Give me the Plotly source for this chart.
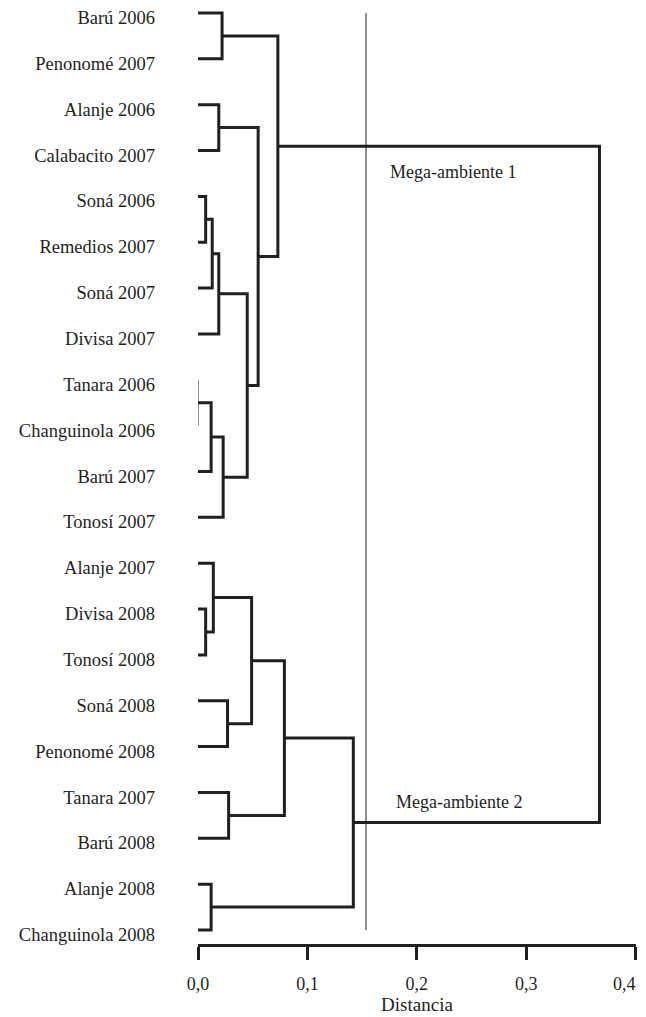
import plotly.graph_objects as go

leaves = ["Barú 2006", "Penonomé 2007", "Alanje 2006", "Calabacito 2007",
          "Soná 2006", "Remedios 2007", "Soná 2007", "Divisa 2007",
          "Tanara 2006", "Changuinola 2006", "Barú 2007", "Tonosí 2007",
          "Alanje 2007", "Divisa 2008", "Tonosí 2008", "Soná 2008",
          "Penonomé 2008", "Tanara 2007", "Barú 2008", "Alanje 2008",
          "Changuinola 2008"]

# merges: (left child, right child, distance); children are leaf names or merge ids
merge_ids = ["A", "B", "C", "D", "E", "F", "G", "H", "I", "J",
             "K", "L", "M", "N", "O", "P", "Q", "R", "S", "T"]
merge_left = ["Tanara 2006", "A", "B", "Soná 2006", "D", "E", "F",
              "Alanje 2006", "H", "Barú 2006", "J", "Divisa 2008",
              "Alanje 2007", "Soná 2008", "M", "Tanara 2007", "O",
              "Alanje 2008", "Q", "K"]
merge_right = ["Changuinola 2006", "Barú 2007", "Tonosí 2007",
               "Remedios 2007", "Soná 2007", "Divisa 2007", "C",
               "Calabacito 2007", "G", "Penonomé 2007", "I", "Tonosí 2008",
               "L", "Penonomé 2008", "N", "Barú 2008", "P",
               "Changuinola 2008", "R", "S"]
merge_dist = [0.0, 0.012, 0.023, 0.007, 0.013, 0.019, 0.045, 0.019, 0.055,
              0.022, 0.073, 0.007, 0.014, 0.027, 0.049, 0.028, 0.079, 0.012,
              0.142, 0.367]

cut_distance = 0.1536
group_labels = ["Mega-ambiente 1", "Mega-ambiente 2"]
group_label_x = [0.1735, 0.1795]
group_label_y = [3.47, 17.2]

x_ticks = [0.0, 0.1, 0.2, 0.3, 0.4]
x_tick_labels = ["0,0", "0,1", "0,2", "0,3", "0,4"]
x_title = "Distancia"

INK = "#231f20"
FONT = "Liberation Serif"
LABEL_OFFSET = 0.1  # labels sit slightly below their branch lines

pos = {name: (i, 0.0) for i, name in enumerate(leaves)}

fig = go.Figure()
thick_x, thick_y = [], []
for mid, l, r, d in zip(merge_ids, merge_left, merge_right, merge_dist):
    yl, hl = pos[l]
    yr, hr = pos[r]
    if d == 0:
        fig.add_trace(go.Scatter(x=[d, d], y=[yl, yr], mode="lines",
                                 line=dict(color=INK, width=1),
                                 hoverinfo="skip", showlegend=False))
    else:
        thick_x += [hl, d, d, hr, None]
        thick_y += [yl, yl, yr, yr, None]
    pos[mid] = ((yl + yr) / 2, d)

fig.add_trace(go.Scatter(x=thick_x, y=thick_y, mode="lines",
                         line=dict(color=INK, width=3),
                         hoverinfo="skip", showlegend=False))

fig.add_trace(go.Scatter(x=[cut_distance, cut_distance], y=[0, len(leaves) - 1],
                         mode="lines", line=dict(color=INK, width=1),
                         hoverinfo="skip", showlegend=False))

for t, gx, gy in zip(group_labels, group_label_x, group_label_y):
    fig.add_annotation(x=gx, y=gy, text=t, showarrow=False, xanchor="left",
                       yanchor="middle", font=dict(family=FONT, size=18, color=INK))

# last tick label nudged left (as in the original) so it stays inside the page
tick_text = x_tick_labels[:-1] + [x_tick_labels[-1] + "\u00a0" * 5]

fig.update_layout(
    width=638, height=1009,
    margin=dict(l=190, r=10, t=0, b=73),
    paper_bgcolor="white", plot_bgcolor="white",
    font=dict(family=FONT, size=18, color=INK),
    xaxis=dict(range=[0, 0.4004], tickvals=x_ticks, ticktext=tick_text,
               automargin=False,
               showgrid=False, zeroline=False, showline=True, linecolor=INK,
               linewidth=3, ticks="outside", ticklen=13, tickwidth=3,
               tickcolor=INK, ticklabelstandoff=8, ticklabeloverflow="allow",
               title=dict(text=x_title, standoff=6,
                          font=dict(family=FONT, size=19, color=INK)),
               tickfont=dict(family=FONT, size=18, color=INK)),
    yaxis=dict(range=[20.305, -0.109], automargin=False,
               tickvals=[i + LABEL_OFFSET for i in range(len(leaves))],
               ticktext=leaves, showgrid=False, zeroline=False, showline=False,
               ticks="", ticklabelstandoff=42, ticklabeloverflow="allow",
               tickfont=dict(family=FONT, size=18.5, color=INK)),
)

fig.write_html("out.html")
